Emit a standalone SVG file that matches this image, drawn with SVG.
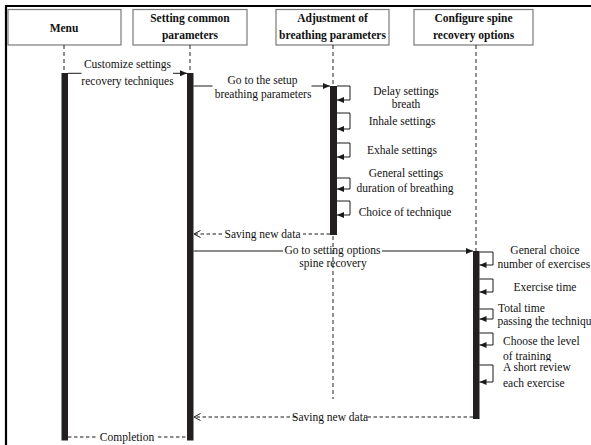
<svg xmlns="http://www.w3.org/2000/svg" width="591" height="445" viewBox="0 0 591 445">
  <style>
    .hdr { fill: #fff; stroke: #7a7a7a; stroke-width: 1.2; }
    .hdr-t { font-family: "Liberation Serif", "Times New Roman", serif; font-size: 11.5px; font-weight: bold; fill: #111; text-anchor: middle; }
    .t { font-family: "Liberation Serif", "Times New Roman", serif; font-size: 11.5px; fill: #111; }
    .c { text-anchor: middle; }
    .life { stroke: #222; stroke-width: 1; stroke-dasharray: 4 3; fill: none; }
    .bar { fill: #231f20; }
    .msg { stroke: #1a1a1a; stroke-width: 1; fill: none; }
    .ret { stroke: #1a1a1a; stroke-width: 1; fill: none; stroke-dasharray: 3.5 2.5; }
    .loop { stroke: #1a1a1a; stroke-width: 1; fill: none; }
  </style>
  <defs>
    <marker id="solid" markerUnits="userSpaceOnUse" markerWidth="8" markerHeight="6" refX="7" refY="3" orient="auto">
      <path d="M0,0 L7,3 L0,6 z" fill="#1a1a1a"/>
    </marker>
    <marker id="open" markerUnits="userSpaceOnUse" markerWidth="8" markerHeight="8" refX="6.5" refY="3.5" orient="auto">
      <path d="M0,0 L6.5,3.5 L0,7" fill="none" stroke="#1a1a1a" stroke-width="1"/>
    </marker>
    <!-- the "of training" line is cut short by the label beneath it -->
    <clipPath id="trainingClip">
      <rect x="495" y="345" width="96" height="16.5"/>
    </clipPath>
  </defs>

  <rect width="591" height="445" fill="#fff"/>

  <!-- outer frame -->
  <line x1="5" y1="6" x2="591" y2="6" stroke="#000" stroke-width="2.2"/>
  <line x1="6" y1="5" x2="6" y2="445" stroke="#000" stroke-width="2.2"/>

  <!-- participants -->
  <g id="menu">
    <rect class="hdr" x="8" y="9.5" width="113" height="35.5"/>
    <text class="hdr-t" x="64" y="31.5">Menu</text>
    <line class="life" x1="64" y1="45" x2="64" y2="73"/>
    <rect class="bar" x="61.5" y="73" width="6.5" height="367.5"/>
  </g>
  <g id="common-params">
    <rect class="hdr" x="133" y="9.5" width="114" height="35.5"/>
    <text class="hdr-t" x="190" y="22">Setting common</text>
    <text class="hdr-t" x="190" y="38.5">parameters</text>
    <line class="life" x1="190" y1="45" x2="190" y2="73"/>
    <rect class="bar" x="187" y="73" width="6.5" height="367.5"/>
  </g>
  <g id="breathing-params">
    <rect class="hdr" x="276" y="9.5" width="113" height="35.5"/>
    <text class="hdr-t" x="332.5" y="22">Adjustment of</text>
    <text class="hdr-t" x="332.5" y="38.5">breathing parameters</text>
    <line class="life" x1="333" y1="45" x2="333" y2="86"/>
    <line class="life" x1="333" y1="236" x2="333" y2="399"/>
    <rect class="bar" x="330" y="86" width="7" height="149"/>
  </g>
  <g id="spine-options">
    <rect class="hdr" x="414" y="9.5" width="119" height="35.5"/>
    <text class="hdr-t" x="473.5" y="22">Configure spine</text>
    <text class="hdr-t" x="473.5" y="38.5">recovery options</text>
    <line class="life" x1="476" y1="45" x2="476" y2="251"/>
    <rect class="bar" x="473" y="251" width="6.5" height="168"/>
  </g>

  <!-- messages -->
  <g id="connectors">
    <!-- Menu -> common parameters -->
    <path class="msg" d="M68,73.3 H81.5"/>
    <path class="msg" d="M173,73.3 H187" marker-end="url(#solid)"/>
    <text class="t c" x="127.5" y="68.3">Customize settings</text>
    <text class="t c" x="127.5" y="85">recovery techniques</text>

    <!-- common parameters -> breathing -->
    <path class="msg" d="M193.5,86 H212.5"/>
    <path class="msg" d="M311.5,86 H330" marker-end="url(#solid)"/>
    <text class="t c" x="262.5" y="84">Go to the setup</text>
    <text class="t c" x="263" y="98.3">breathing parameters</text>

    <!-- breathing self calls -->
    <path class="loop" d="M337,86 H350 V100 H337" marker-end="url(#solid)"/>
    <path class="loop" d="M337,113 H350 V129 H337" marker-end="url(#solid)"/>
    <path class="loop" d="M337,143 H350 V157 H337" marker-end="url(#solid)"/>
    <path class="loop" d="M337,178 H350 V189 H337" marker-end="url(#solid)"/>
    <path class="loop" d="M337,201 H350 V215 H337" marker-end="url(#solid)"/>
    <text class="t c" x="406" y="95">Delay settings</text>
    <text class="t c" x="406" y="108">breath</text>
    <text class="t c" x="402" y="125">Inhale settings</text>
    <text class="t c" x="402" y="154">Exhale settings</text>
    <text class="t c" x="406" y="177">General settings</text>
    <text class="t c" x="405" y="192">duration of breathing</text>
    <text class="t c" x="405" y="216">Choice of technique</text>

    <!-- breathing -> common parameters (return) -->
    <path class="ret" d="M330,234 H303"/>
    <path class="ret" d="M222,234 H194" marker-end="url(#open)"/>
    <text class="t c" x="262.5" y="238">Saving new data</text>

    <!-- common parameters -> spine options -->
    <path class="msg" d="M193.5,251 H283"/>
    <path class="msg" d="M382,251 H473" marker-end="url(#solid)"/>
    <text class="t c" x="332.5" y="254">Go to setting options</text>
    <text class="t c" x="333" y="267">spine recovery</text>

    <!-- spine self calls -->
    <path class="loop" d="M479.5,252 H493 V265 H479.5" marker-end="url(#solid)"/>
    <path class="loop" d="M479.5,279 H493 V292 H479.5" marker-end="url(#solid)"/>
    <path class="loop" d="M479.5,309 H493 V319 H479.5" marker-end="url(#solid)"/>
    <path class="loop" d="M479.5,333 H493 V345 H479.5" marker-end="url(#solid)"/>
    <path class="loop" d="M479.5,365 H493 V382 H479.5" marker-end="url(#solid)"/>
    <text class="t c" x="545" y="254">General choice</text>
    <text class="t" x="497.5" y="268">number of exercises</text>
    <text class="t c" x="545" y="291">Exercise time</text>
    <text class="t" x="498" y="312">Total time</text>
    <text class="t" x="497.5" y="325">passing the technique</text>
    <text class="t" x="503" y="345">Choose the level</text>
    <text class="t" x="503" y="359.5" clip-path="url(#trainingClip)">of training</text>
    <text class="t" x="503" y="371">A short review</text>
    <text class="t" x="503" y="387">each exercise</text>

    <!-- spine options -> common parameters (return) -->
    <path class="ret" d="M473,417 H364"/>
    <path class="ret" d="M296,417 H194" marker-end="url(#open)"/>
    <text class="t c" x="330" y="421">Saving new data</text>

    <!-- common parameters -> Menu -->
    <path class="ret" d="M68,437 H96"/>
    <path class="ret" d="M158,437 H187"/>
    <text class="t c" x="127" y="441">Completion</text>
  </g>
</svg>
